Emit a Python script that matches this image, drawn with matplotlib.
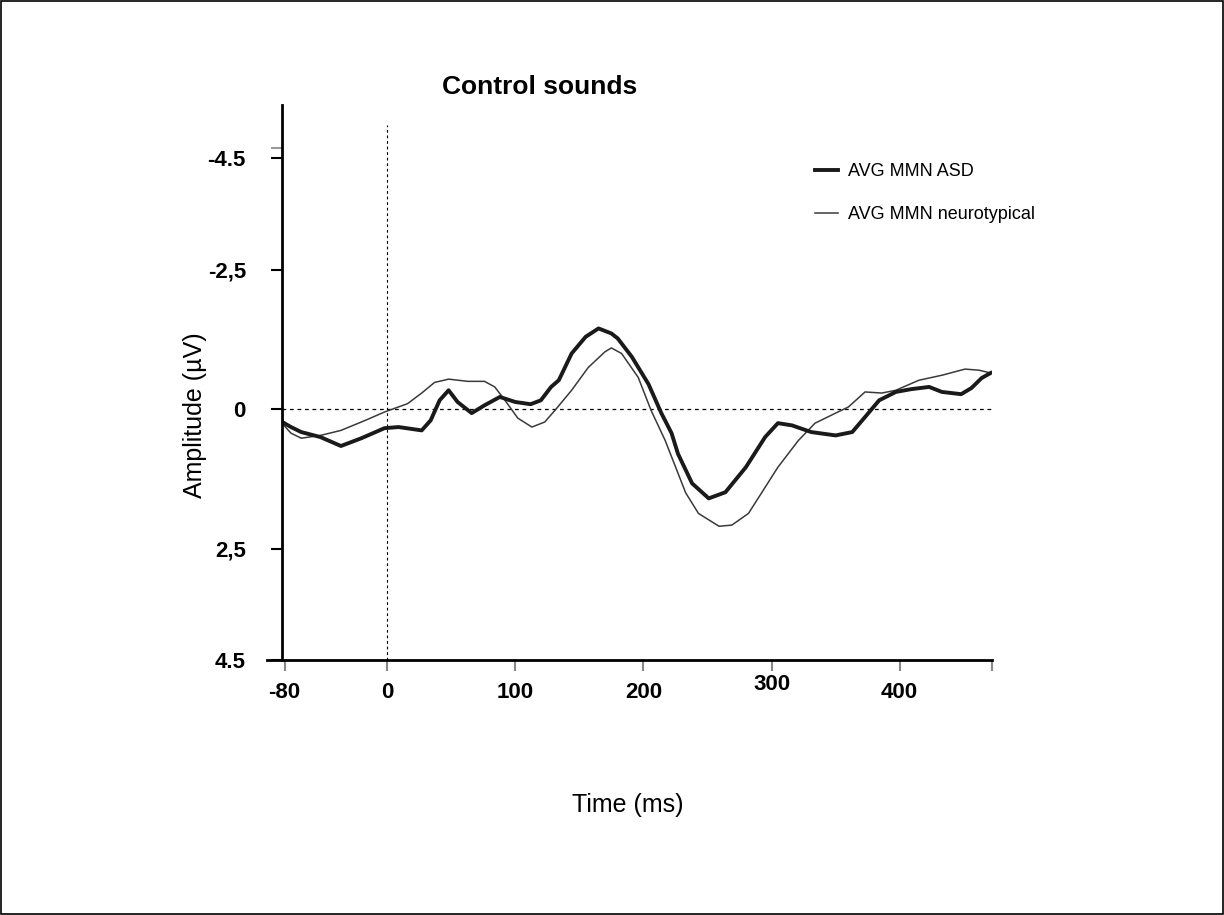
import matplotlib
matplotlib.use("Agg")
import matplotlib.pyplot as plt
from matplotlib.patches import Rectangle
from matplotlib.transforms import ScaledTranslation

plt.rcParams['font.family'] = ['Liberation Sans', 'DejaVu Sans']

# averaged MMN traces (time in ms, amplitude in microvolts)
t_asd = [-84, -75, -67, -52, -36, -20, -2, 9, 27, 34, 41, 48, 55, 66, 76, 88,
         100, 112, 120, 128, 134, 144, 155, 165, 175, 180, 191, 204, 214, 222,
         227, 238, 251, 264, 280, 295, 305, 316, 331, 350, 363, 373, 384, 397,
         409, 423, 433, 448, 456, 464, 471]
v_asd = [0.20, 0.32, 0.41, 0.50, 0.66, 0.52, 0.34, 0.32, 0.38, 0.20, -0.16,
         -0.34, -0.13, 0.07, -0.07, -0.22, -0.13, -0.09, -0.16, -0.40, -0.52,
         -1.00, -1.30, -1.45, -1.36, -1.27, -0.94, -0.45, 0.07, 0.43, 0.80,
         1.33, 1.60, 1.49, 1.04, 0.50, 0.25, 0.29, 0.41, 0.47, 0.41, 0.14,
         -0.16, -0.31, -0.36, -0.40, -0.31, -0.27, -0.38, -0.56, -0.65]

t_nt = [-84, -75, -67, -52, -36, -17, -2, 16, 27, 37, 48, 63, 76, 84, 92, 102,
        113, 123, 131, 144, 157, 170, 175, 183, 196, 206, 217, 233, 243, 259,
        269, 282, 292, 305, 321, 334, 350, 360, 373, 386, 397, 415, 433, 451,
        462, 471]
v_nt = [0.20, 0.43, 0.52, 0.47, 0.38, 0.20, 0.05, -0.10, -0.29, -0.48, -0.54,
        -0.50, -0.50, -0.40, -0.16, 0.16, 0.32, 0.23, 0.02, -0.34, -0.75,
        -1.03, -1.10, -1.00, -0.57, 0.02, 0.56, 1.50, 1.87, 2.10, 2.08, 1.87,
        1.51, 1.04, 0.56, 0.25, 0.07, -0.04, -0.31, -0.29, -0.34, -0.52, -0.61,
        -0.72, -0.70, -0.65]

x_ticks = [-80, 0, 100, 200, 300, 400]
y_ticks = [-4.5, -2.5, 0, 2.5, 4.5]
y_labels = ['-4.5', '-2,5', '0', '2,5', '4.5']

fig = plt.figure(figsize=(12.24, 9.15), dpi=100)
fig.patches.append(Rectangle((0.001, 0.001), 0.998, 0.998, transform=fig.transFigure,
                             fill=False, edgecolor='black', linewidth=1.2))

ax = fig.add_axes([0.2304, 0.2787, 0.580, 0.6066])
ax.set_xlim(-82, 472)
ax.set_ylim(4.5, -5.46)

# reference lines
ax.axhline(0, color='black', lw=0.9, ls=(0, (3, 3)))
ax.plot([0, 0], [4.5, -5.1], color='black', lw=0.8, ls=(0, (2.5, 2.5)))

ax.plot(t_nt, v_nt, color='#3a3a3a', lw=1.1, label='AVG MMN neurotypical')
ax.plot(t_asd, v_asd, color='#1a1a1a', lw=2.8, label='AVG MMN ASD')

for s in ['top', 'right']:
    ax.spines[s].set_visible(False)
ax.spines['left'].set_linewidth(2.0)
ax.spines['bottom'].set_linewidth(2.0)
ax.spines['bottom'].set_bounds(-94, 472)

ax.set_xticks(x_ticks)
ax.set_xticklabels([str(v) for v in x_ticks], fontsize=16, fontweight='bold')
ax.set_xticks([472], minor=True)
ax.set_yticks(y_ticks)
ax.set_yticklabels(y_labels, fontsize=16, fontweight='bold')
ax.set_yticks([-4.68], minor=True)
ax.tick_params(axis='x', which='both', length=8, width=1.5, colors='#888888', pad=8,
               labelcolor='black')
ax.tick_params(axis='y', length=8, width=1.5, pad=18)
ax.tick_params(axis='y', which='minor', length=8, width=1.5, colors='#999999')

# the 300 label sits a little higher in the original
lab300 = ax.get_xticklabels()[4]
lab300.set_transform(lab300.get_transform() + ScaledTranslation(0, 8 / 100, fig.dpi_scale_trans))

ax.set_xlabel('Time (ms)', fontsize=18)
ax.xaxis.set_label_coords(0.487, -0.24)
ax.set_ylabel('Amplitude (µV)', fontsize=18)
ax.yaxis.set_label_coords(-0.106, 0.441)
ax.set_title('Control sounds', fontsize=19, fontweight='bold', pad=8, x=0.363)

h, l = ax.get_legend_handles_labels()
ax.legend(h[::-1], l[::-1], loc='upper left', bbox_to_anchor=(815 / 1224, 1 - 163 / 915),
          bbox_transform=fig.transFigure, frameon=False, fontsize=13,
          handlelength=1.25, handletextpad=0.55, labelspacing=1.45,
          borderpad=0, borderaxespad=0)

fig.savefig('out.png', dpi=100)
